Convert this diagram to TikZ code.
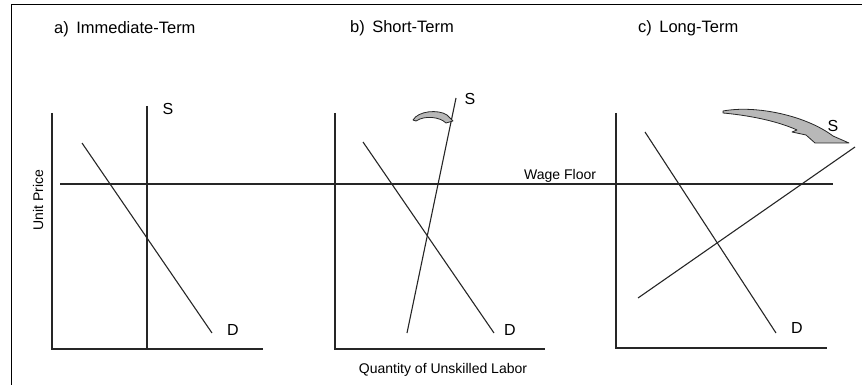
\documentclass[tikz,border=0pt]{standalone}
\usepackage{fontspec}
\setmainfont{Liberation Sans}
\begin{document}
\begin{tikzpicture}[x=1pt,y=-1pt,
  ln/.style={line width=1.1pt,black!85},
  lbl/.style={inner sep=0pt,font=\fontsize{14}{16}\selectfont},
  crv/.style={inner sep=0pt,font=\fontsize{16}{18}\selectfont},
  ttl/.style={inner sep=0pt,anchor=west,font=\fontsize{16.5}{19}\selectfont},
  shiftarrow/.style={fill=black!28,draw=black!85,line width=0.8pt,line join=round}]
\useasboundingbox (0,0) rectangle (862,385);
% frame
\coordinate (f1) at (11,385); \coordinate (f2) at (11,5); \coordinate (f3) at (862,5);
\draw[line width=1pt] (f1) -- (f2) -- (f3);
% titles
\node[ttl] (ta) at (54,29) {a)\hspace{0.45em}Immediate-Term};
\node[ttl] (tb) at (350,28) {b)\hspace{0.45em}Short-Term};
\node[ttl] (tc) at (638,28) {c)\hspace{0.45em}Long-Term};
% axis labels
\node[lbl,rotate=90] (yl) at (38,200) {Unit Price};
\node[lbl] (xl) at (443,370) {Quantity of Unskilled Labor};
% wage floor
\coordinate (w1) at (60,184); \coordinate (w2) at (833,184);
\draw[ln] (w1) -- (w2);
\node[lbl,anchor=south west] (wf) at (524,183) {Wage Floor};
% panel a
\coordinate (ay) at (52,113); \coordinate (ao) at (52,349); \coordinate (ax) at (263,349);
\draw[ln] (ay) -- (ao) -- (ax);
\coordinate (as1) at (147,106); \coordinate (as2) at (147,349);
\draw[ln] (as1) -- (as2);
\coordinate (ad1) at (82,143); \coordinate (ad2) at (212,333);
\draw[ln] (ad1) -- (ad2);
\node[crv] (aS) at (168,109) {S};
\node[crv] (aD) at (233,330) {D};
% panel b
\coordinate (by) at (335,113); \coordinate (bo) at (335,349); \coordinate (bx) at (545,349);
\draw[ln] (by) -- (bo) -- (bx);
\coordinate (bs1) at (407,333); \coordinate (bs2) at (456,98);
\draw[ln] (bs1) -- (bs2);
\coordinate (bd1) at (363,142); \coordinate (bd2) at (494,333);
\draw[ln] (bd1) -- (bd2);
\node[crv] (bS) at (470,99) {S};
\node[crv] (bD) at (510,330) {D};
\draw[shiftarrow] (413,120) .. controls (418,111) and (438,109) .. (447,115)
  -- (453,121) -- (446,123) .. controls (440,117) and (425,115) .. (416,121) -- cycle;
% panel c
\coordinate (cy) at (616,113); \coordinate (co) at (616,348); \coordinate (cx) at (827,348);
\draw[ln] (cy) -- (co) -- (cx);
\coordinate (cs1) at (638,298); \coordinate (cs2) at (855,147);
\draw[ln] (cs1) -- (cs2);
\coordinate (cd1) at (645,132); \coordinate (cd2) at (776,333);
\draw[ln] (cd1) -- (cd2);
\node[crv] (cS) at (833,126) {S};
\node[crv] (cD) at (797,328) {D};
\draw[shiftarrow] (723,111) .. controls (755,105) and (805,115) .. (833,136)
  -- (849,143) -- (815,143) -- (806,135) -- (792,132) -- (797,130)
  .. controls (775,120) and (745,115) .. (723,113) -- cycle;
\end{tikzpicture}
\end{document}
